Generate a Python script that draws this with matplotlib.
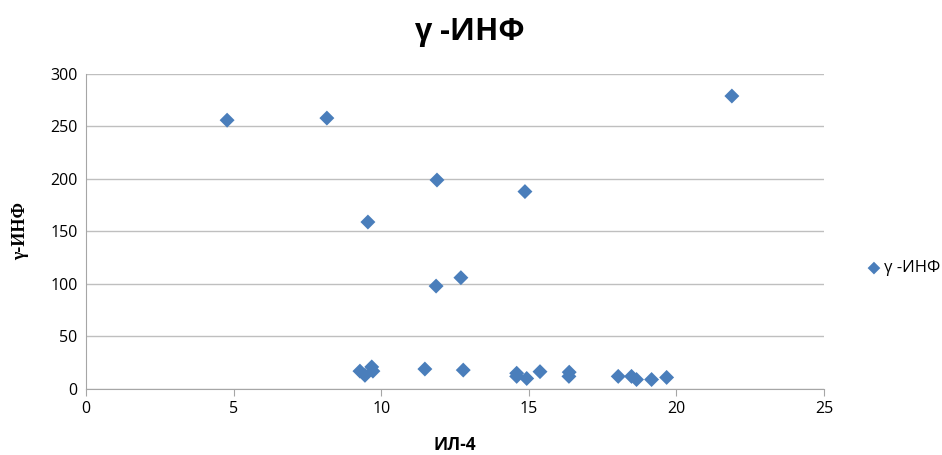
import matplotlib
matplotlib.use("Agg")
import matplotlib.pyplot as plt

plt.rcParams['font.family'] = ['Open Sans', 'DejaVu Sans']

il4 = [4.78, 8.16, 11.89, 14.87, 21.88, 9.55, 12.70, 11.86,
       9.28, 9.45, 9.68, 9.72, 11.48, 12.78,
       14.59, 14.59, 14.93, 15.38, 16.37, 16.36,
       18.03, 18.48, 18.65, 19.16, 19.67]
ifn = [256, 258, 199, 188, 279, 159, 106, 98,
       17, 13, 21, 17, 19, 18,
       15, 12, 10, 16.5, 16, 12,
       12, 12, 9, 9, 11]

color = '#4A7EBB'

fig = plt.figure(figsize=(9.42, 4.55), dpi=100)
ax = fig.add_axes([0.0913, 0.1451, 0.7834, 0.6923])

ax.scatter(il4, ifn, marker='D', s=58, color=color, edgecolors='none',
           label='γ -ИНФ', zorder=3)

ax.set_xlim(0, 25)
ax.set_ylim(0, 300)
ax.set_xticks(range(0, 26, 5))
ax.set_yticks(range(0, 301, 50))
ax.yaxis.grid(True, color='#BFBFBF', linewidth=1)
ax.set_axisbelow(True)
for s in ['top', 'right']:
    ax.spines[s].set_visible(False)
ax.spines['left'].set_color('#A6A6A6')
ax.spines['bottom'].set_color('#A6A6A6')
ax.tick_params(axis='both', length=0, labelsize=11.5, colors='black', pad=6)
ax.tick_params(axis='x', length=5, color='#A6A6A6', direction='out', pad=4)

fig.suptitle('γ -ИНФ', x=0.499, y=0.962, fontsize=22, fontweight='bold')
ax.set_xlabel('ИЛ-4', fontsize=12.5, fontweight='bold', labelpad=13)
ax.set_ylabel('γ-ИНФ', fontsize=13, fontweight='bold',
              family=['Liberation Serif', 'DejaVu Serif'], labelpad=15)

leg = fig.legend(loc='center left', bbox_to_anchor=(0.903, 0.41),
                 frameon=False, fontsize=12, handletextpad=0.1,
                 handlelength=1.0, markerscale=0.85)

fig.savefig('out.png', dpi=100)
